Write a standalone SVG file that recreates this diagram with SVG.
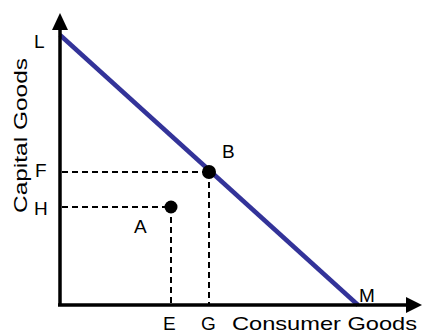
<svg xmlns="http://www.w3.org/2000/svg" width="422" height="333" viewBox="0 0 422 333">
<style>
.t{font-family:"Liberation Sans",Arial,sans-serif;font-size:19px;fill:#000}
.d{stroke:#000;stroke-width:2;stroke-dasharray:6 4;fill:none}
.ax{stroke:#000;stroke-width:3.5;fill:none}
</style>
<rect width="422" height="333" fill="#fff"/>
<g id="connectors">
<line class="d" x1="62" y1="172" x2="209" y2="172"/>
<line class="d" x1="62" y1="207" x2="171" y2="207"/>
<line class="d" x1="171" y1="207" x2="171" y2="304"/>
<line class="d" x1="209" y1="172" x2="209" y2="304"/>
<line x1="60" y1="35" x2="358" y2="305" stroke="#333399" stroke-width="4.5"/>
</g>
<g id="y-axis">
<line class="ax" x1="60" y1="306" x2="60" y2="26"/>
<polygon points="60,13 68,30 52,30" fill="#000"/>
</g>
<g id="x-axis">
<line class="ax" x1="58" y1="305" x2="410" y2="305"/>
<polygon points="422,305 406,297 406,313" fill="#000"/>
</g>
<g id="B"><circle cx="209" cy="172" r="7" fill="#000"/><text class="t" x="222" y="158">B</text></g>
<g id="A"><circle cx="171" cy="207" r="6.5" fill="#000"/><text class="t" x="134" y="233">A</text></g>
<g id="L"><text class="t" x="34" y="48">L</text></g>
<g id="F"><text class="t" x="35" y="177">F</text></g>
<g id="H"><text class="t" x="34" y="215">H</text></g>
<g id="M"><text class="t" x="359" y="302">M</text></g>
<g id="E"><text class="t" x="163" y="330">E</text></g>
<g id="G"><text class="t" x="201" y="330">G</text></g>
<g id="xlabel"><text class="t" x="232" y="330" font-size="20" textLength="185" lengthAdjust="spacingAndGlyphs">Consumer Goods</text></g>
<g id="ylabel"><text class="t" transform="translate(27,213) rotate(-90)" font-size="20" textLength="155" lengthAdjust="spacingAndGlyphs">Capital Goods</text></g>
</svg>
